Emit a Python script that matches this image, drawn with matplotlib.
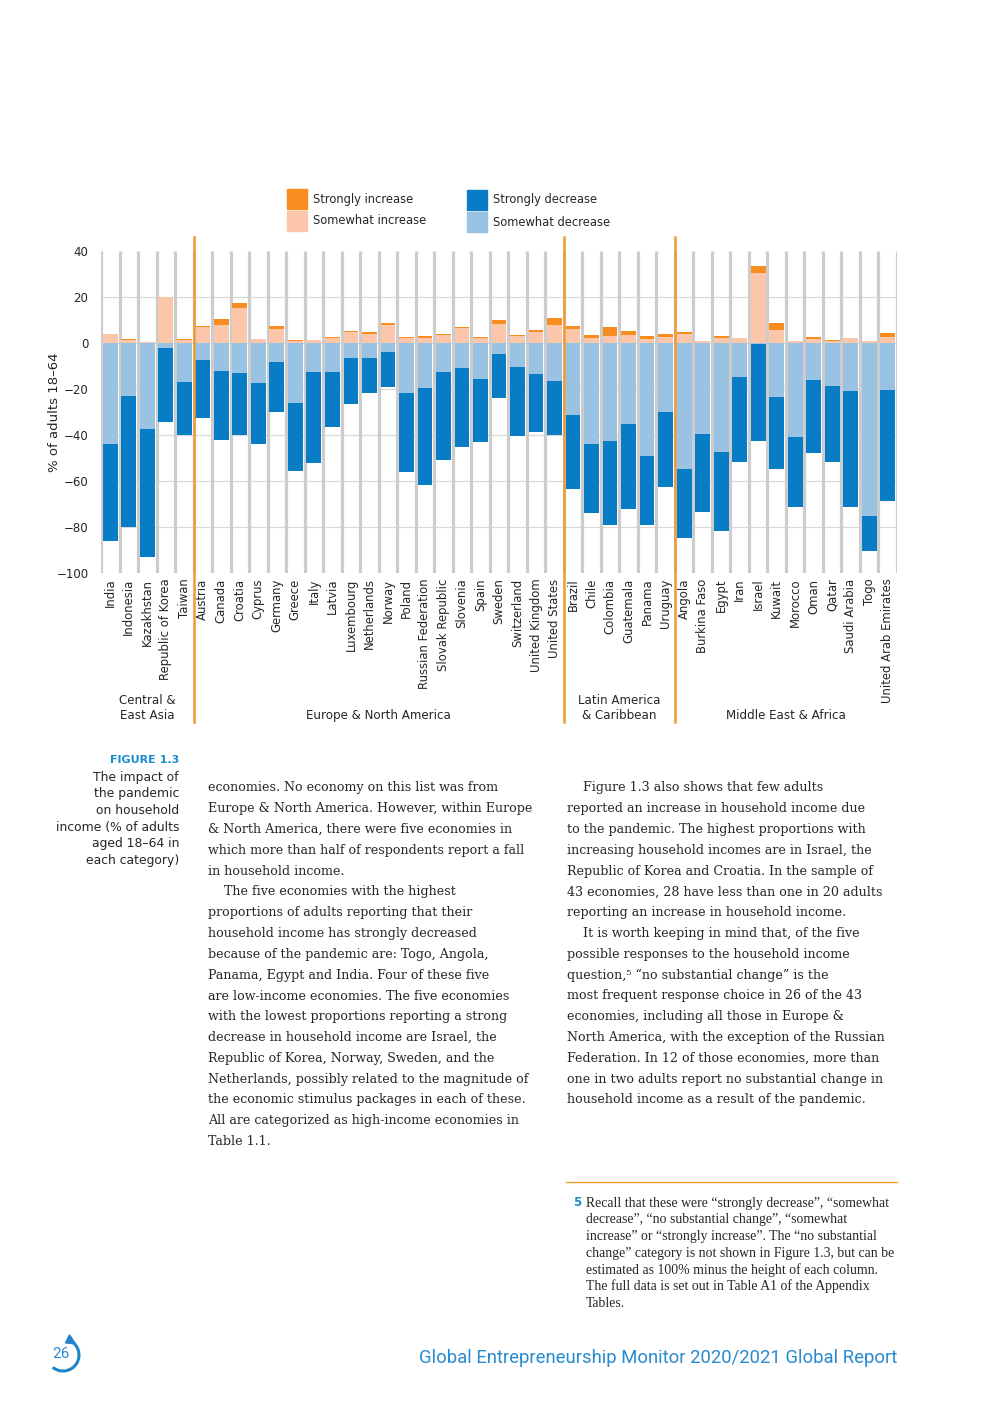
import numpy as np
import matplotlib
matplotlib.use("Agg")
import matplotlib.pyplot as plt
from matplotlib.patches import Rectangle, Arc, Polygon
from matplotlib.lines import Line2D

# Data (% of adults 18-64)
countries = ["India", "Indonesia", "Kazakhstan", "Republic of Korea", "Taiwan",
             "Austria", "Canada", "Croatia", "Cyprus", "Germany", "Greece", "Italy",
             "Latvia", "Luxembourg", "Netherlands", "Norway", "Poland",
             "Russian Federation", "Slovak Republic", "Slovenia", "Spain", "Sweden",
             "Switzerland", "United Kingdom", "United States",
             "Brazil", "Chile", "Colombia", "Guatemala", "Panama", "Uruguay",
             "Angola", "Burkina Faso", "Egypt", "Iran", "Israel", "Kuwait", "Morocco",
             "Oman", "Qatar", "Saudi Arabia", "Togo", "United Arab Emirates"]
regions = ["Central &\nEast Asia", "Europe & North America",
           "Latin America\n& Caribbean", "Middle East & Africa"]
region_sizes = [5, 20, 6, 12]

somewhat_inc = [3.9, 1.2, 0.3, 20.0, 1.4,
                7.0, 7.8, 15.2, 1.7, 6.1, 1.0, 1.3, 2.3, 4.9, 3.9, 7.7, 2.3,
                2.2, 3.5, 6.7, 2.3, 8.3, 3.0, 4.8, 7.8,
                6.1, 2.2, 3.2, 3.6, 1.9, 2.8,
                3.9, 0.7, 2.3, 2.2, 30.4, 5.7, 0.7, 1.7, 0.9, 2.2, 0.7, 2.8]
strongly_inc = [0.0, 0.4, 0.0, 0.0, 0.3,
                0.4, 2.6, 2.2, 0.0, 1.4, 0.3, 0.0, 0.5, 0.5, 0.9, 0.9, 0.5,
                1.0, 0.4, 0.3, 0.5, 1.7, 0.6, 0.9, 3.2,
                1.4, 1.4, 3.9, 1.8, 1.3, 1.3,
                0.9, 0.0, 0.9, 0.0, 3.1, 3.0, 0.0, 1.1, 0.4, 0.0, 0.0, 1.5]
somewhat_dec = [44.0, 23.0, 37.5, 2.2, 17.0,
                7.4, 12.0, 13.0, 17.4, 8.3, 26.0, 12.6, 12.6, 6.5, 6.5, 3.9, 21.7,
                19.6, 12.6, 10.9, 15.7, 4.8, 10.4, 13.5, 16.5,
                31.3, 43.9, 42.5, 35.2, 49.1, 30.0,
                54.8, 39.6, 47.4, 14.8, 0.3, 23.5, 40.9, 16.1, 18.7, 20.9, 75.2, 20.4]
strongly_dec = [42.0, 57.0, 55.5, 32.0, 23.0,
                25.0, 30.0, 27.0, 26.5, 21.6, 29.5, 39.6, 23.8, 19.9, 15.1, 15.2, 34.2,
                42.0, 38.1, 34.2, 27.2, 19.1, 29.9, 25.2, 23.5,
                32.0, 29.9, 36.5, 36.8, 29.9, 32.5,
                29.8, 33.7, 34.2, 36.8, 42.2, 31.1, 30.3, 31.6, 32.9, 50.3, 15.1, 48.2]

C_STRONG_INC = "#f68d1e"
C_SOME_INC = "#fcc6ab"
C_STRONG_DEC = "#087cc4"
C_SOME_DEC = "#99c2e3"
C_SEP = "#f09a33"
C_BLUE_TXT = "#1b8bd0"
TXT = "#262626"

W, H = 992, 1403
fig = plt.figure(figsize=(W / 100, H / 100), dpi=100)


def fx(px):
    return px / W


def fy(py):
    return 1 - py / H


ax = fig.add_axes([fx(101), fy(573), fx(897) - fx(101), fy(251) - fy(573)])
x = np.arange(len(countries))
si = np.array(somewhat_inc)
st = np.array(strongly_inc)
sd = np.array(somewhat_dec)
sdd = np.array(strongly_dec)

# grid
for v in [20, 0, -20, -40, -60, -80]:
    ax.axhline(v, color="#dadada", lw=0.9, zorder=0)
ax.vlines(np.arange(-0.5, len(countries)), -100, 40, color="#cccccc", lw=2.3, zorder=0)

bw = 0.8
ax.bar(x, si, bw, color=C_SOME_INC, zorder=2)
ax.bar(x, st, bw, bottom=si, color=C_STRONG_INC, zorder=2)
ax.bar(x, -sd, bw, color=C_SOME_DEC, zorder=2)
ax.bar(x, -sdd, bw, bottom=-sd, color=C_STRONG_DEC, zorder=2)

ax.set_xlim(-0.5, len(countries) - 0.5)
ax.set_ylim(-100, 40)
ax.set_yticks(range(-100, 41, 20))
ax.set_xticks(x)
ax.set_xticklabels(countries, rotation=90, fontsize=8.4, color=TXT)
ax.tick_params(axis="y", length=0, pad=9, labelsize=8.5, labelcolor=TXT)
ax.tick_params(axis="x", length=0, pad=4)
for s in ax.spines.values():
    s.set_visible(False)
ax.set_ylabel("% of adults 18–64", fontsize=9.5, color=TXT, labelpad=-3)

# region separators and labels
bounds = np.cumsum([0] + region_sizes)
trans = ax.get_xaxis_transform()
for b in bounds[1:-1]:
    ax.add_line(Line2D([b - 0.5, b - 0.5], [1.044, -0.463], transform=trans,
                       color=C_SEP, lw=1.8, clip_on=False, zorder=3))
for name, lo, hi in zip(regions, bounds[:-1], bounds[1:]):
    ax.text((lo + hi - 1) / 2, -0.462, name, transform=trans, ha="center",
            va="bottom", fontsize=8.6, color=TXT, linespacing=1.15)

# legend
leg = [(287, 189, C_STRONG_INC, "Strongly increase"),
       (287, 211, C_SOME_INC, "Somewhat increase"),
       (467, 190, C_STRONG_DEC, "Strongly decrease"),
       (467, 212, C_SOME_DEC, "Somewhat decrease")]
for lx, ly, col, lab in leg:
    fig.add_artist(Rectangle((fx(lx), fy(ly + 20)), fx(20), 20 / H, color=col,
                             transform=fig.transFigure))
    fig.text(fx(lx + 26), fy(ly + 10), lab, fontsize=8.3, color=TXT, va="center")

# caption
fig.text(fx(179), fy(760), "FIGURE 1.3", fontsize=8, fontweight="bold",
         color=C_BLUE_TXT, ha="right", va="center")
cap = ["The impact of", "the pandemic", "on household", "income (% of adults",
       "aged 18–64 in", "each category)"]
for i, line in enumerate(cap):
    fig.text(fx(179), fy(777 + i * 16.7), line, fontsize=8.9, color=TXT,
             ha="right", va="center")

col1 = ["economies. No economy on this list was from",
        "Europe & North America. However, within Europe",
        "& North America, there were five economies in",
        "which more than half of respondents report a fall",
        "in household income.",
        "    The five economies with the highest",
        "proportions of adults reporting that their",
        "household income has strongly decreased",
        "because of the pandemic are: Togo, Angola,",
        "Panama, Egypt and India. Four of these five",
        "are low-income economies. The five economies",
        "with the lowest proportions reporting a strong",
        "decrease in household income are Israel, the",
        "Republic of Korea, Norway, Sweden, and the",
        "Netherlands, possibly related to the magnitude of",
        "the economic stimulus packages in each of these.",
        "All are categorized as high-income economies in",
        "Table 1.1."]
col2 = ["    Figure 1.3 also shows that few adults",
        "reported an increase in household income due",
        "to the pandemic. The highest proportions with",
        "increasing household incomes are in Israel, the",
        "Republic of Korea and Croatia. In the sample of",
        "43 economies, 28 have less than one in 20 adults",
        "reporting an increase in household income.",
        "    It is worth keeping in mind that, of the five",
        "possible responses to the household income",
        "question,\u2075 \u201cno substantial change\u201d is the",
        "most frequent response choice in 26 of the 43",
        "economies, including all those in Europe &",
        "North America, with the exception of the Russian",
        "Federation. In 12 of those economies, more than",
        "one in two adults report no substantial change in",
        "household income as a result of the pandemic."]
for i, line in enumerate(col1):
    fig.text(fx(208), fy(788 + i * 20.8), line, fontsize=9.1, family="DejaVu Serif",
             color=TXT, va="center")
for i, line in enumerate(col2):
    fig.text(fx(567), fy(788 + i * 20.8), line, fontsize=9.1, family="DejaVu Serif",
             color=TXT, va="center")

# footnote
fig.add_artist(Line2D([fx(566), fx(897)], [fy(1182), fy(1182)], color=C_SEP, lw=1,
                      transform=fig.transFigure))
fig.text(fx(573), fy(1203), "5", fontsize=8.5, fontweight="bold", color=C_BLUE_TXT,
         va="center")
notes = ["Recall that these were \u201cstrongly decrease\u201d, \u201csomewhat",
         "decrease\u201d, \u201cno substantial change\u201d, \u201csomewhat",
         "increase\u201d or \u201cstrongly increase\u201d. The \u201cno substantial",
         "change\u201d category is not shown in Figure 1.3, but can be",
         "estimated as 100% minus the height of each column.",
         "The full data is set out in Table A1 of the Appendix",
         "Tables."]
for i, line in enumerate(notes):
    fig.text(fx(586), fy(1203 + i * 16.7), line, fontsize=9.9,
             family="Liberation Serif", color=TXT, va="center")

# footer
fig.text(fx(897), fy(1358), "Global Entrepreneurship Monitor 2020/2021 Global Report",
         fontsize=13.3, family="Roboto", color="#2a8ad0",
         ha="right", va="center")
fig.text(fx(61), fy(1354), "26", fontsize=11, family="Roboto",
         color="#2a8ad0", ha="center", va="center")
r = 16
fig.add_artist(Arc((fx(63), fy(1355)), 2 * r / W, 2 * r / H, theta1=-140, theta2=62,
                   color="#1f84c9", lw=2.2, transform=fig.transFigure))
tipx, tipy = 63 + r * np.cos(np.radians(62)), 1355 - r * np.sin(np.radians(62))
fig.add_artist(Polygon([[fx(tipx - 5), fy(tipy + 2)], [fx(tipx + 5), fy(tipy + 3)],
                        [fx(tipx - 1), fy(tipy - 6)]], closed=True, color="#1f84c9",
                       transform=fig.transFigure))

fig.savefig("out.png", dpi=100)
